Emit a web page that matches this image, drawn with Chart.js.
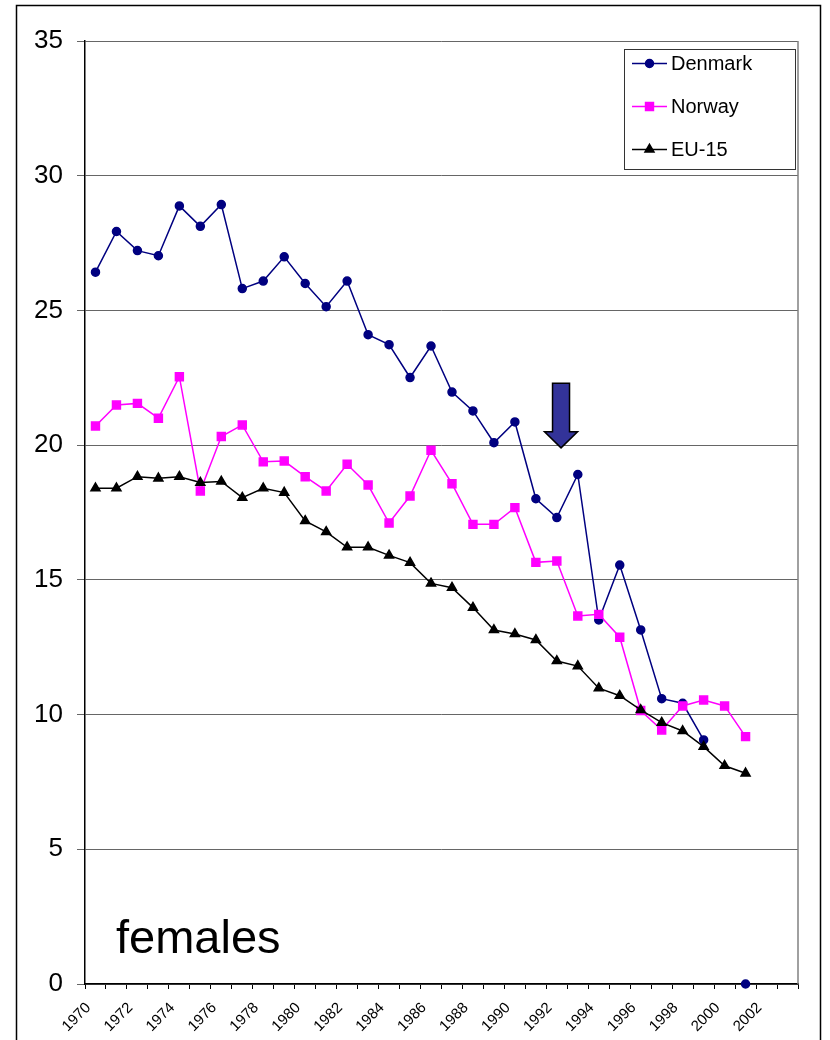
<!DOCTYPE html>
<html>
<head>
<meta charset="utf-8">
<title>females</title>
<script src="https://cdn.jsdelivr.net/npm/chart.js@4.4.1/dist/chart.umd.min.js"></script>
<style>
  html, body { margin: 0; padding: 0; background: #fff; }
  #wrap { width: 830px; height: 1040px; }
</style>
</head>
<body>
<div id="wrap"><canvas id="chart" width="830" height="1040"></canvas></div>
<script>
// values
const years = ['1970', '1971', '1972', '1973', '1974', '1975', '1976', '1977', '1978', '1979',
  '1980', '1981', '1982', '1983', '1984', '1985', '1986', '1987', '1988', '1989',
  '1990', '1991', '1992', '1993', '1994', '1995', '1996', '1997', '1998', '1999',
  '2000', '2001', '2002', '2003'];

const denmark = [26.42, 27.93, 27.22, 27.03, 28.88, 28.12, 28.93, 25.81, 26.09, 26.99,
  26.0, 25.14, 26.09, 24.10, 23.73, 22.51, 23.68, 21.97, 21.27, 20.09,
  20.86, 18.01, 17.31, 18.91, 13.51, 15.55, 13.14, 10.59, 10.42, 9.06,
  null, 0, null, null];

const norway = [20.71, 21.49, 21.55, 21.0, 22.54, 18.30, 20.32, 20.75, 19.38, 19.41,
  18.83, 18.30, 19.29, 18.52, 17.11, 18.11, 19.81, 18.57, 17.06, 17.06,
  17.68, 15.65, 15.70, 13.66, 13.72, 12.87, 10.15, 9.43, 10.32, 10.54,
  10.32, 9.18, null, null];

const eu15 = [18.40, 18.40, 18.83, 18.77, 18.83, 18.61, 18.65, 18.05, 18.40, 18.24,
  17.19, 16.78, 16.21, 16.21, 15.91, 15.64, 14.87, 14.71, 13.97, 13.14,
  12.99, 12.77, 11.99, 11.80, 10.98, 10.70, 10.17, 9.70, 9.39, 8.81,
  8.10, 7.82, null, null];

const seriesNames = ['Denmark', 'Norway', 'EU-15'];
const panelLabel = 'females';
// arrow marker: category position and value range (top of shaft -> tip)
const arrowMark = { index: 22.2, top: 22.3, tip: 19.9 };

const FONT = "'Liberation Sans', Arial, sans-serif";

const decorations = {
  id: 'decorations',
  beforeDraw(chart) {
    const ctx = chart.ctx;
    ctx.save();
    ctx.fillStyle = '#fff';
    ctx.fillRect(0, 0, chart.width, chart.height);
    // outer frame
    ctx.strokeStyle = '#000';
    ctx.lineWidth = 1.5;
    ctx.strokeRect(16.5, 5.5, 804, 1100);
    ctx.restore();
  },
  beforeDatasetsDraw(chart) {
    const { ctx, chartArea: a } = chart;
    ctx.save();
    ctx.strokeStyle = '#808080';
    ctx.lineWidth = 1.5;
    ctx.beginPath();
    ctx.moveTo(a.right, a.top);
    ctx.lineTo(a.right, a.bottom);
    ctx.stroke();
    ctx.restore();
  },
  afterDraw(chart) {
    const ctx = chart.ctx;
    const x = chart.scales.x, y = chart.scales.y;
    ctx.save();

    // big panel label
    ctx.fillStyle = '#000';
    ctx.font = '47px ' + FONT;
    ctx.textAlign = 'left';
    ctx.textBaseline = 'alphabetic';
    ctx.fillText(panelLabel, 116, 953);

    // arrow
    const ax = x.getPixelForValue(arrowMark.index);
    const yTop = y.getPixelForValue(arrowMark.top);
    const yTip = y.getPixelForValue(arrowMark.tip);
    const headH = 16;
    ctx.beginPath();
    ctx.moveTo(ax - 8.5, yTop);
    ctx.lineTo(ax + 8.5, yTop);
    ctx.lineTo(ax + 8.5, yTip - headH);
    ctx.lineTo(ax + 16.5, yTip - headH);
    ctx.lineTo(ax, yTip);
    ctx.lineTo(ax - 16.5, yTip - headH);
    ctx.lineTo(ax - 8.5, yTip - headH);
    ctx.closePath();
    ctx.fillStyle = '#333399';
    ctx.fill();
    ctx.strokeStyle = '#000';
    ctx.lineWidth = 1.5;
    ctx.stroke();

    // legend box
    ctx.fillStyle = '#fff';
    ctx.fillRect(624, 49, 171, 120);
    ctx.strokeStyle = '#333';
    ctx.lineWidth = 1;
    ctx.strokeRect(624.5, 49.5, 171, 120);
    const rows = [63.5, 106.5, 149.5];
    chart.data.datasets.forEach((ds, i) => {
      const ry = rows[i];
      ctx.strokeStyle = ds.borderColor;
      ctx.lineWidth = ds.borderWidth;
      ctx.beginPath();
      ctx.moveTo(632, ry);
      ctx.lineTo(667, ry);
      ctx.stroke();
      ctx.fillStyle = ds.pointBackgroundColor;
      ctx.strokeStyle = ds.pointBorderColor;
      Chart.helpers.drawPoint(ctx, {
        pointStyle: ds.pointStyle, radius: ds.pointRadius, rotation: 0, borderWidth: 1
      }, 649.5, ry);
      ctx.fillStyle = '#000';
      ctx.font = '20px ' + FONT;
      ctx.textBaseline = 'middle';
      ctx.fillText(ds.label, 671, ry + 1);
    });
    ctx.restore();
  }
};

const cfg = {
  type: 'line',
  data: {
    labels: years,
    datasets: [
      {
        label: seriesNames[0], data: denmark, order: 2, clip: false,
        borderColor: '#000080', borderWidth: 1.5,
        pointStyle: 'circle', pointRadius: 4,
        pointBackgroundColor: '#000080', pointBorderColor: '#000080'
      },
      {
        label: seriesNames[1], data: norway, order: 1,
        borderColor: '#ff00ff', borderWidth: 1.5,
        pointStyle: 'rect', pointRadius: 5.6,
        pointBackgroundColor: '#ff00ff', pointBorderColor: '#ff00ff'
      },
      {
        label: seriesNames[2], data: eu15, order: 0,
        borderColor: '#000', borderWidth: 1.5,
        pointStyle: 'triangle', pointRadius: 5.2,
        pointBackgroundColor: '#000', pointBorderColor: '#000'
      }
    ]
  },
  options: {
    responsive: false,
    devicePixelRatio: 1,
    animation: false,
    events: [],
    layout: { padding: { top: 41, right: 32, left: 0, bottom: 0 } },
    elements: { line: { tension: 0 }, point: { borderWidth: 1 } },
    plugins: { legend: { display: false }, tooltip: { enabled: false } },
    scales: {
      x: {
        type: 'category',
        offset: true,
        grid: { display: true, drawOnChartArea: false, offset: true, tickLength: 5, color: '#000' },
        border: { color: '#000', width: 1.5 },
        ticks: {
          autoSkip: false, minRotation: 45, maxRotation: 45, padding: 10, labelOffset: -7,
          color: '#000', font: { family: FONT, size: 15 },
          callback: (v, i) => (i % 2 === 0 ? years[i] : '')
        },
        afterFit: (s) => { s.height = 56; }
      },
      y: {
        min: 0, max: 35,
        grid: { color: '#666', lineWidth: 1, tickLength: 8 },
        border: { color: '#000', width: 1.5 },
        ticks: { stepSize: 5, padding: 14, color: '#000', font: { family: FONT, size: 26 } },
        afterFit: (s) => { s.width = 85; }
      }
    }
  },
  plugins: [decorations]
};

window.myChart = new Chart(document.getElementById('chart'), cfg);
</script>
</body>
</html>
